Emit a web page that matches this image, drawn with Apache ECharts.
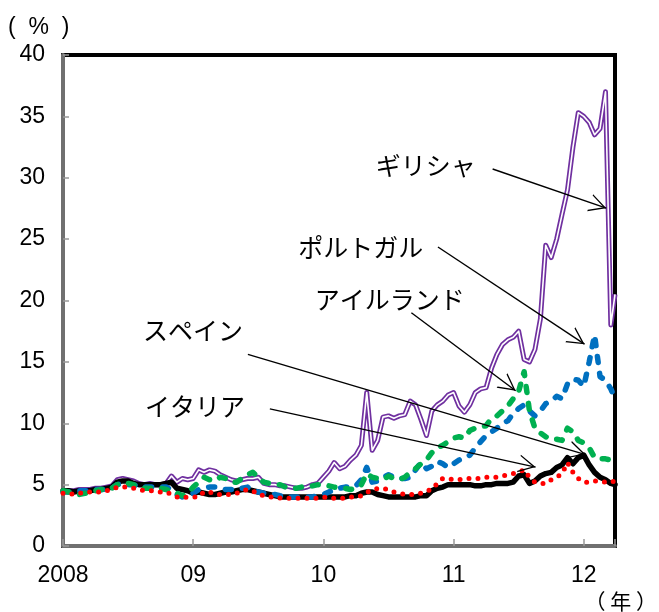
<!DOCTYPE html>
<html><head><meta charset="utf-8">
<script src="https://cdn.jsdelivr.net/npm/echarts@6/dist/echarts.min.js"></script>
<style>html,body{margin:0;padding:0;background:#fff}#c{width:659px;height:612px}</style>
</head><body><div id="c"></div>
<script>
// semi-monthly observation dates (decimal years)
const dates = [
2008.000,2008.042,2008.083,2008.125,2008.167,2008.208,2008.250,2008.292,2008.333,2008.375,2008.417,2008.458,
2008.500,2008.542,2008.583,2008.625,2008.667,2008.708,2008.750,2008.792,2008.833,2008.875,2008.917,2008.958,
2009.000,2009.042,2009.083,2009.125,2009.167,2009.208,2009.250,2009.292,2009.333,2009.375,2009.417,2009.458,
2009.500,2009.542,2009.583,2009.625,2009.667,2009.708,2009.750,2009.792,2009.833,2009.875,2009.917,2009.958,
2010.000,2010.042,2010.083,2010.125,2010.167,2010.208,2010.250,2010.292,2010.333,2010.375,2010.417,2010.458,
2010.500,2010.542,2010.583,2010.625,2010.667,2010.708,2010.750,2010.792,2010.833,2010.875,2010.917,2010.958,
2011.000,2011.042,2011.083,2011.125,2011.167,2011.208,2011.250,2011.292,2011.333,2011.375,2011.417,2011.458,
2011.500,2011.542,2011.583,2011.625,2011.667,2011.708,2011.750,2011.792,2011.833,2011.875,2011.917,2011.958,
2012.000,2012.042,2012.083,2012.125,2012.167,2012.208,2012.240
];
const greece = [
4.5,4.5,4.5,4.6,4.6,4.6,4.7,4.7,4.8,4.9,5.4,5.5,
5.4,5.3,5.1,5.0,5.1,5.0,5.0,5.1,5.7,5.2,5.5,5.4,
5.5,6.2,6.0,6.2,6.1,5.8,5.6,5.4,5.3,5.4,5.5,5.5,
5.6,5.1,5.0,5.0,4.9,4.9,4.8,4.7,4.7,4.8,5.0,5.1,
5.6,6.1,6.8,6.3,6.5,7.0,7.4,8.2,12.5,7.8,8.6,10.5,
10.6,10.4,10.6,10.7,11.8,11.5,10.3,9.0,11.0,11.5,11.8,12.3,
12.5,11.4,10.9,11.5,12.5,12.8,12.9,14.5,15.6,16.4,16.8,17.0,
17.5,15.2,15.0,16.0,18.5,24.5,23.5,25.0,27.0,29.0,32.5,35.3,
35.0,34.5,33.5,34.0,37.0,18.0,20.5
];
const portugal = [
4.4,4.4,4.4,4.5,4.5,4.5,4.6,4.6,4.6,4.7,5.0,5.1,
5.0,5.0,4.8,4.8,4.8,4.8,4.8,4.8,4.6,4.2,4.0,4.1,
4.3,4.6,4.7,4.8,4.8,4.7,4.6,4.6,4.6,4.7,4.8,4.5,
4.4,4.3,4.2,4.2,4.1,4.1,4.0,4.0,4.0,4.0,4.0,4.1,
4.2,4.4,4.6,4.7,4.8,4.8,4.9,5.4,6.4,5.2,5.3,5.6,
5.8,5.6,5.5,5.5,5.6,6.2,6.8,6.3,6.5,6.9,6.7,6.4,
6.7,7.0,7.2,7.4,8.0,8.5,9.0,9.3,9.6,10.0,10.2,10.8,
11.2,11.5,11.0,10.6,11.0,11.6,11.8,12.2,12.0,13.2,13.6,13.5,
13.0,15.0,17.2,13.8,13.5,12.8,12.0
];
const ireland = [
4.5,4.4,4.3,4.2,4.3,4.3,4.5,4.6,4.6,4.7,5.0,5.1,
5.1,5.0,4.8,4.7,4.7,4.7,4.7,4.6,4.5,4.3,4.1,4.3,
4.8,5.2,5.6,5.4,5.3,5.6,5.5,5.2,5.2,5.5,5.8,6.0,
5.6,5.2,5.1,5.0,5.0,4.8,4.7,4.7,4.8,4.8,4.9,5.0,
5.0,4.9,4.8,4.7,4.7,4.6,4.7,5.0,5.9,5.6,5.5,5.4,
5.7,5.5,5.4,5.6,6.0,6.3,6.7,7.0,7.6,8.0,8.2,8.5,
8.8,8.9,8.8,9.4,9.6,9.7,9.8,10.4,10.6,11.0,11.4,12.0,
12.6,14.2,11.0,9.6,9.2,8.9,8.7,8.7,8.6,9.6,9.3,8.6,
8.4,8.0,7.2,7.1,7.1,7.0,7.0
];
const spain = [
4.5,4.5,4.4,4.5,4.5,4.5,4.6,4.6,4.7,4.8,5.2,5.3,
5.3,5.1,5.0,5.0,5.0,5.0,5.0,5.1,5.2,4.7,4.6,4.5,
4.3,4.4,4.3,4.2,4.2,4.3,4.4,4.4,4.5,4.6,4.6,4.5,
4.4,4.3,4.2,4.1,4.0,4.0,4.0,4.0,4.0,4.0,4.0,4.0,
4.0,4.0,4.0,4.0,4.0,4.1,4.1,4.3,4.4,4.4,4.2,4.1,
4.0,4.0,4.0,4.0,4.0,4.0,4.1,4.1,4.5,4.7,4.8,5.0,
5.0,5.0,5.0,5.0,4.9,4.9,5.0,5.0,5.1,5.1,5.1,5.2,
5.7,5.8,5.1,5.3,5.7,5.9,6.0,6.4,6.6,7.2,6.7,7.2,
7.4,6.6,6.0,5.6,5.4,5.1,5.0
];
const italy = [
4.3,4.3,4.2,4.3,4.4,4.4,4.4,4.4,4.5,4.6,4.8,4.8,
4.8,4.7,4.6,4.5,4.5,4.5,4.4,4.4,4.2,4.0,3.9,4.0,
4.0,4.0,4.4,4.4,4.2,4.2,4.2,4.2,4.3,4.5,4.6,4.5,
4.2,4.1,4.0,4.0,3.9,3.9,3.9,3.9,3.9,3.9,3.9,3.9,
4.0,3.9,3.9,3.9,3.9,4.0,4.0,4.1,4.4,4.5,4.7,4.7,
4.6,4.4,4.3,4.2,4.2,4.2,4.3,4.5,4.6,5.1,5.5,5.5,
5.4,5.4,5.5,5.5,5.5,5.5,5.6,5.6,5.6,5.7,5.8,5.9,
6.0,6.2,5.6,5.2,5.1,5.1,5.4,5.6,5.9,6.8,6.0,5.5,
5.2,5.2,5.3,5.3,5.2,5.3,5.2
];
// annotation texts (data coords of label centre)
const labelNames = ['ギリシャ','ポルトガル','アイルランド','スペイン','イタリア'];
const labelPos = [[2010.786,30.98],[2010.287,24.33],[2010.51,20.11],[2008.998,17.52],[2009.013,11.35]];
// arrows: from -> to (data coords)
const arrowFrom = [[2011.300,30.71],[2010.880,24.36],[2010.676,19.00],[2009.420,15.61],[2009.589,11.17]];
const arrowTo   = [[2012.173,27.52],[2012.006,16.44],[2011.477,12.65],[2012.014,7.45],[2011.630,6.43]];

const FONT = '"Liberation Sans", Arial, sans-serif';
const JP = '"Noto Sans CJK JP", sans-serif';
const pairs = v => dates.map((d, i) => [d, v[i]]);
const ARROW = 'path://M9,0L9.01,0L9,0.01Z M9,17L18,34L16.5,34L9,19.8L1.5,34L0,34Z';

const chart = echarts.init(document.getElementById('c'), null, {renderer: 'canvas'});
chart.setOption({
  animation: false,
  backgroundColor: '#fff',
  grid: {left: 63, right: 44, top: 55, bottom: 66, show: true, borderColor: '#000', borderWidth: 4, backgroundColor: 'transparent'},
  xAxis: {
    type: 'value', min: 2008, max: 2012.24, interval: 1,
    axisLine: {show: true, onZero: false, lineStyle: {color: '#707070', width: 4}},
    axisTick: {show: true, inside: true, length: 7, lineStyle: {color: '#999', width: 1.5}},
    splitLine: {show: false},
    axisLabel: {fontSize: 23, color: '#000', fontFamily: FONT, margin: 18,
      formatter: v => Math.abs(v - Math.round(v)) > 0.001 ? '' : (Math.round(v) === 2008 ? '2008' : String(Math.round(v)).slice(2))}
  },
  yAxis: {
    type: 'value', min: 0, max: 40, interval: 5,
    axisLine: {show: true, onZero: false, lineStyle: {color: '#707070', width: 4}},
    axisTick: {show: true, inside: true, length: 6, lineStyle: {color: '#999', width: 1.5}},
    splitLine: {show: false},
    axisLabel: {fontSize: 23, color: '#000', fontFamily: FONT, margin: 18}
  },
  graphic: [
    {type: 'text', left: 8, top: 16, style: {text: '(  %  )', fontSize: 23, fontFamily: FONT, fill: '#000'}},
    {type: 'text', right: 2, bottom: 0, style: {text: '（ 年 ）', fontSize: 21, fontFamily: JP, fill: '#000'}}
  ],
  series: [
    {name: 'ギリシャ', type: 'line', data: pairs(greece), symbol: 'none', z: 2,
     lineStyle: {color: '#7030A0', width: 5, join: 'round'}},
    {name: 'ギリシャ_inner', type: 'line', data: pairs(greece), symbol: 'none', z: 2,
     lineStyle: {color: '#fff', width: 1.6, join: 'round'}},
    {name: 'スペイン', type: 'line', data: pairs(spain), symbol: 'none', z: 3,
     lineStyle: {color: '#000', width: 5.5, join: 'round', cap: 'round'}},
    {name: 'ポルトガル', type: 'line', data: pairs(portugal), symbol: 'none', z: 3,
     lineStyle: {color: '#0070C0', width: 5.5, type: [6, 11], cap: 'round', join: 'round'}},
    {name: 'アイルランド', type: 'line', data: pairs(ireland), symbol: 'none', z: 3,
     lineStyle: {color: '#00B050', width: 5.5, type: [6, 11], cap: 'round', join: 'round'}},
    {name: 'イタリア', type: 'line', data: pairs(italy), symbol: 'none', z: 3,
     lineStyle: {color: '#FF0000', width: 5, type: [0, 9], cap: 'round', join: 'round'}},
    {name: 'annot', type: 'line', data: [], z: 5,
     markLine: {
       silent: true, animation: false,
       symbol: ['none', ARROW], symbolSize: [18, 34],
       lineStyle: {color: '#000', width: 1.4, type: 'solid'},
       label: {show: false},
       emphasis: {disabled: true},
       data: arrowFrom.map((f, i) => [{coord: f}, {coord: arrowTo[i]}])
     },
     markPoint: {
       silent: true, animation: false,
       symbol: 'circle', symbolSize: 0,
       label: {show: true, position: 'inside', formatter: '{b}', fontSize: 25, fontFamily: JP, color: '#000'},
       itemStyle: {color: 'transparent'},
       data: labelNames.map((n, i) => ({name: n, coord: labelPos[i]}))
     }
    }
  ]
});
</script></body></html>
